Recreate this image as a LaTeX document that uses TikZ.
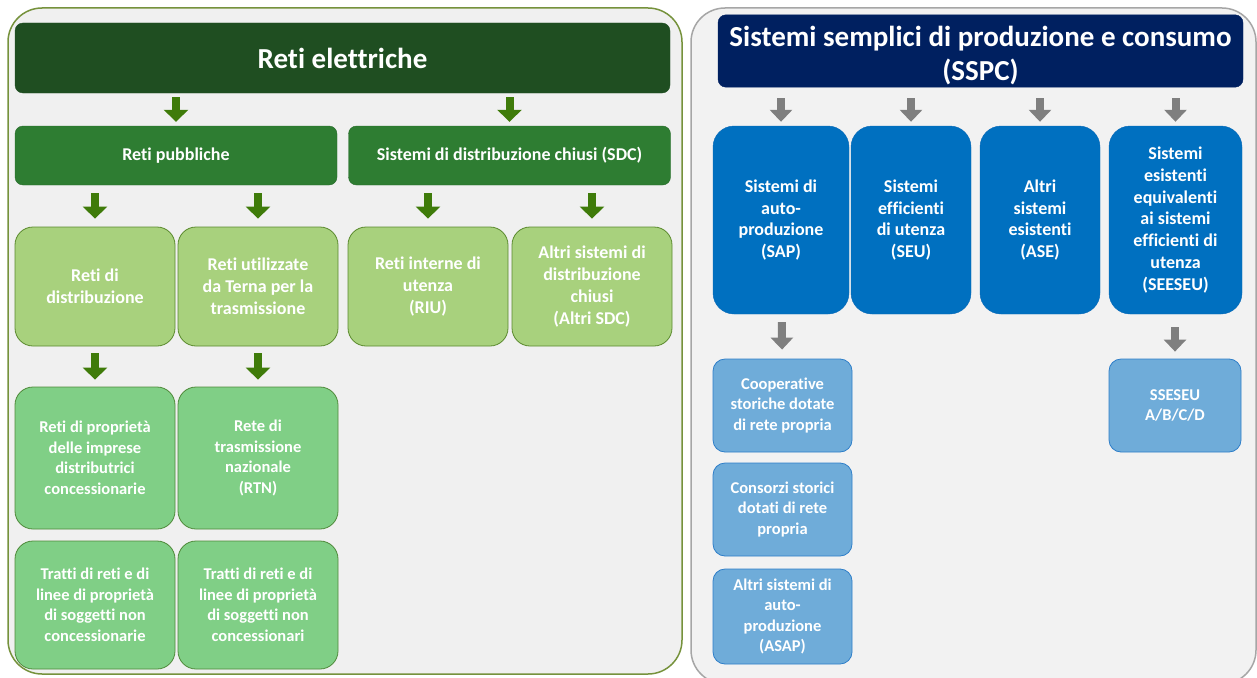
\documentclass[tikz,border=0pt]{standalone}
\usepackage{fontspec}
\setmainfont{Carlito}[Ligatures=NoCommon]
\usetikzlibrary{arrows.meta}
\definecolor{leftbg}{HTML}{F0F0F0}
\definecolor{leftline}{HTML}{76923C}
\definecolor{rightbg}{HTML}{F2F2F2}
\definecolor{rightline}{HTML}{A6A6A6}
\definecolor{titlegreen}{HTML}{1F4E21}
\definecolor{headgreen}{HTML}{2E7D32}
\definecolor{headline}{HTML}{276B2A}
\definecolor{lightgreen}{HTML}{A8D17D}
\definecolor{lightline}{HTML}{5B8A2E}
\definecolor{midgreen}{HTML}{80CF86}
\definecolor{midline}{HTML}{4F8A3A}
\definecolor{arrgreen}{HTML}{3F7B0A}
\definecolor{navy}{HTML}{002060}
\definecolor{sysblue}{HTML}{0070C0}
\definecolor{sysline}{HTML}{0A6AB8}
\definecolor{lightblue}{HTML}{6FACD9}
\definecolor{lightblueline}{HTML}{2E7EC9}
\definecolor{arrgray}{HTML}{7F7F7F}
\begin{document}
\begin{tikzpicture}[x=1pt, y=-1pt,
  every node/.style={text=white, align=center, inner sep=2pt, font=\bfseries\fontsize{18}{22}\selectfont},
  panel/.style={rounded corners=34pt, line width=1.5pt},
  titlebox/.style={rectangle, rounded corners=8pt, draw=#1, fill=#1, font=\bfseries\fontsize{29}{34}\selectfont},
  headbox/.style={rectangle, rounded corners=8pt, draw=headline, fill=headgreen, minimum width=322pt, minimum height=59pt},
  netbox/.style={rectangle, rounded corners=18pt, draw=lightline, fill=lightgreen, line width=0.8pt, minimum width=160pt, minimum height=119pt},
  ownbox/.style={rectangle, rounded corners=18pt, draw=midline, fill=midgreen, line width=0.8pt, minimum width=160pt, minimum height=#1, font=\bfseries\fontsize{16.5}{20.5}\selectfont},
  sysbox/.style={rectangle, rounded corners=21pt, draw=sysline, fill=sysblue, minimum width=#1, minimum height=188pt, font=\bfseries\fontsize{18}{21.7}\selectfont},
  subbox/.style={rectangle, rounded corners=12pt, draw=lightblueline, fill=lightblue, line width=0.8pt, minimum width=#1, minimum height=93pt, font=\bfseries\fontsize{16.5}{20.5}\selectfont},
  garrow/.style={line width=8pt, draw=arrgreen, -{Triangle[length=12pt, width=24pt]}},
  karrow/.style={line width=8pt, draw=arrgray, -{Triangle[length=12pt, width=22pt]}}]

  \fill[white] (0,0) rectangle (1257,677);
  \useasboundingbox (0,0) rectangle (1257,677);

  % panels
  \draw[panel, draw=leftline, fill=leftbg] (8,8) rectangle (682,674);
  \draw[panel, draw=rightline, fill=rightbg] (691,8) rectangle (1256,684);

  % reti elettriche
  \node[titlebox=titlegreen, minimum width=655pt, minimum height=70pt] (reti) at (342.5,58) {Reti elettriche};
  \node[headbox] (pub) at (176,155.5) {Reti pubbliche};
  \node[headbox, right of=pub, node distance=333.5pt] (sdc) {Sistemi di distribuzione chiusi (SDC)};

  \node[netbox] (rdist) at (95,286.5) {Reti di\\distribuzione};
  \node[netbox, right of=rdist, node distance=163pt] (rterna) {Reti utilizzate\\da Terna per la\\trasmissione};
  \node[netbox] (riu) at (428,286.5) {Reti interne di\\utenza\\(RIU)};
  \node[netbox, right of=riu, node distance=164pt] (asdc) {Altri sistemi di\\distribuzione\\chiusi\\(Altri SDC)};

  \node[ownbox=142pt, below of=rdist, node distance=171.5pt] (rprop) {Reti di proprietà\\delle imprese\\distributrici\\concessionarie};
  \node[ownbox=142pt, below of=rterna, node distance=171.5pt] (rtn) {Rete di\\trasmissione\\nazionale\\(RTN)};
  \node[ownbox=128pt, below of=rprop, node distance=147pt] (tratti1) {Tratti di reti e di\\linee di proprietà\\di soggetti non\\concessionarie};
  \node[ownbox=128pt, below of=rtn, node distance=147pt] (tratti2) {Tratti di reti e di\\linee di proprietà\\di soggetti non\\concessionari};

  \draw[garrow, shorten <=4pt, shorten >=4pt] (reti.south -| pub) -- (pub);
  \draw[garrow, shorten <=4pt, shorten >=4pt] (reti.south -| sdc) -- (sdc);
  \draw[garrow, shorten <=8pt, shorten >=8pt] (pub.south -| rdist) -- (rdist);
  \draw[garrow, shorten <=8pt, shorten >=8pt] (pub.south -| rterna) -- (rterna);
  \draw[garrow, shorten <=8pt, shorten >=8pt] (sdc.south -| riu) -- (riu);
  \draw[garrow, shorten <=8pt, shorten >=8pt] (sdc.south -| asdc) -- (asdc);
  \draw[garrow, shorten <=7pt, shorten >=7pt] (rdist) -- (rprop);
  \draw[garrow, shorten <=7pt, shorten >=7pt] (rterna) -- (rtn);

  % SSPC
  \node[titlebox=navy, minimum width=525pt, minimum height=68pt] (sspc) at (980.5,51) {\rule{0pt}{30pt}Sistemi semplici di produzione e consumo\\(SSPC)};
  \node[sysbox=136pt] (sap) at (781,220) {Sistemi di\\auto-\\produzione\\(SAP)};
  \node[sysbox=120pt] (seu) at (911,220) {Sistemi\\efficienti\\di utenza\\(SEU)};
  \node[sysbox=120pt] (ase) at (1040,220) {Altri\\sistemi\\esistenti\\(ASE)};
  \node[sysbox=133pt] (seeseu) at (1175.5,220) {Sistemi\\esistenti\\equivalenti\\ai sistemi\\efficienti di\\utenza\\(SEESEU)};

  \node[subbox=139pt] (coop) at (782.5,405.5) {Cooperative\\storiche dotate\\di rete propria};
  \node[subbox=139pt, below of=coop, node distance=104pt] (consorzi) {Consorzi storici\\dotati di rete\\propria};
  \node[subbox=139pt, below of=consorzi, node distance=107pt, minimum height=95pt] (asap) {Altri sistemi di\\auto-\\produzione\\(ASAP)};
  \node[subbox=132pt] (sseseu) at (1175,405.5) {SSESEU\\A/B/C/D};

  \foreach \sys in {sap, seu, ase, seeseu}
    \draw[karrow, shorten <=11pt, shorten >=4pt] (sspc.south -| \sys) -- (\sys);
  \draw[karrow, shorten <=8pt, shorten >=9pt] (sap) -- (coop);
  \draw[karrow, shorten <=13pt, shorten >=7pt] (seeseu.south -| sseseu) -- (sseseu);

\end{tikzpicture}
\end{document}
